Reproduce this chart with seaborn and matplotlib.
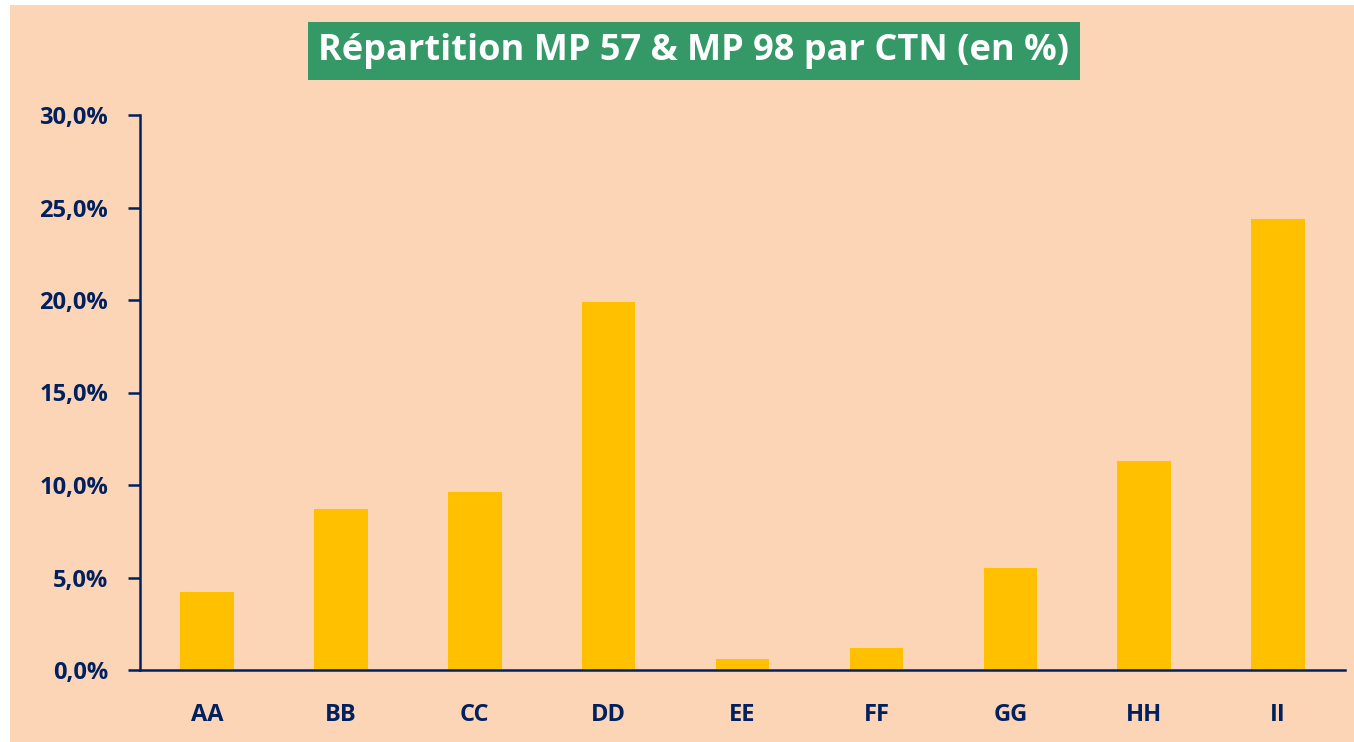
import numpy as np
import pandas as pd
import matplotlib
matplotlib.use("Agg")
import matplotlib.pyplot as plt
import matplotlib.patches as mpatches
from matplotlib.ticker import FuncFormatter
import seaborn as sns

categories = ["AA", "BB", "CC", "DD", "EE", "FF", "GG", "HH", "II"]
shares = [4.2, 8.7, 9.6, 19.9, 0.6, 1.2, 5.5, 11.3, 24.4]
title = "Répartition MP 57 & MP 98 par CTN (en %)"

peach = "#FBD5B5"
navy = "#002060"
bar_color = "#FFC000"
green = "#349966"

df = pd.DataFrame({"ctn": categories, "share": shares})

sns.set_theme(style="white")
plt.rcParams["font.family"] = ["Open Sans", "DejaVu Sans"]

fig = plt.figure(figsize=(13.54, 7.42), dpi=100)
fig.patch.set_facecolor(peach)
# thin white strips on the left and top edges
fig.patches.append(mpatches.Rectangle((0, 0), 10 / 1354, 1, transform=fig.transFigure,
                                      facecolor="white", edgecolor="none", zorder=-10))
fig.patches.append(mpatches.Rectangle((0, 1 - 5 / 742), 1, 5 / 742, transform=fig.transFigure,
                                      facecolor="white", edgecolor="none", zorder=-10))

ax = fig.add_axes([140 / 1354, 1 - 670 / 742, (1345 - 140) / 1354, (670 - 115) / 742])
ax.set_facecolor("none")

sns.barplot(data=df, x="ctn", y="share", color=bar_color, saturation=1,
            width=0.4, linewidth=0, edgecolor="none", ax=ax)

ax.set_ylim(0, 30)
ax.set_xlim(-0.5, len(categories) - 0.5)
ax.set_yticks(np.arange(0, 31, 5))
ax.yaxis.set_major_formatter(FuncFormatter(lambda v, p: f"{v:.1f}%".replace(".", ",")))
ax.set_xlabel("")
ax.set_ylabel("")

for side in ["top", "right"]:
    ax.spines[side].set_visible(False)
for side in ["left", "bottom"]:
    ax.spines[side].set_color(navy)
    ax.spines[side].set_linewidth(1.8)

# category ticks sit between the bars
ax.set_xticks(np.arange(len(categories)))
ax.set_xticks(np.arange(-0.5, len(categories)), minor=True)
ax.tick_params(axis="x", which="major", length=0, pad=24)
ax.tick_params(axis="x", which="minor", length=9, width=1.8, color=navy, direction="out")
ax.tick_params(axis="y", length=9, width=1.8, color=navy, direction="out", pad=14)
ax.tick_params(axis="y", which="major", left=True)
for lbl in ax.get_xticklabels() + ax.get_yticklabels():
    lbl.set_color(navy)
    lbl.set_fontweight("bold")
    lbl.set_fontsize(17)

fig.text(694 / 1354, 1 - 51 / 742, title, ha="center", va="center",
         color="white", fontsize=26, fontweight="bold",
         bbox=dict(boxstyle="square,pad=0.3", facecolor=green, edgecolor="none"))

fig.savefig("out.png", dpi=100, facecolor=fig.get_facecolor())
